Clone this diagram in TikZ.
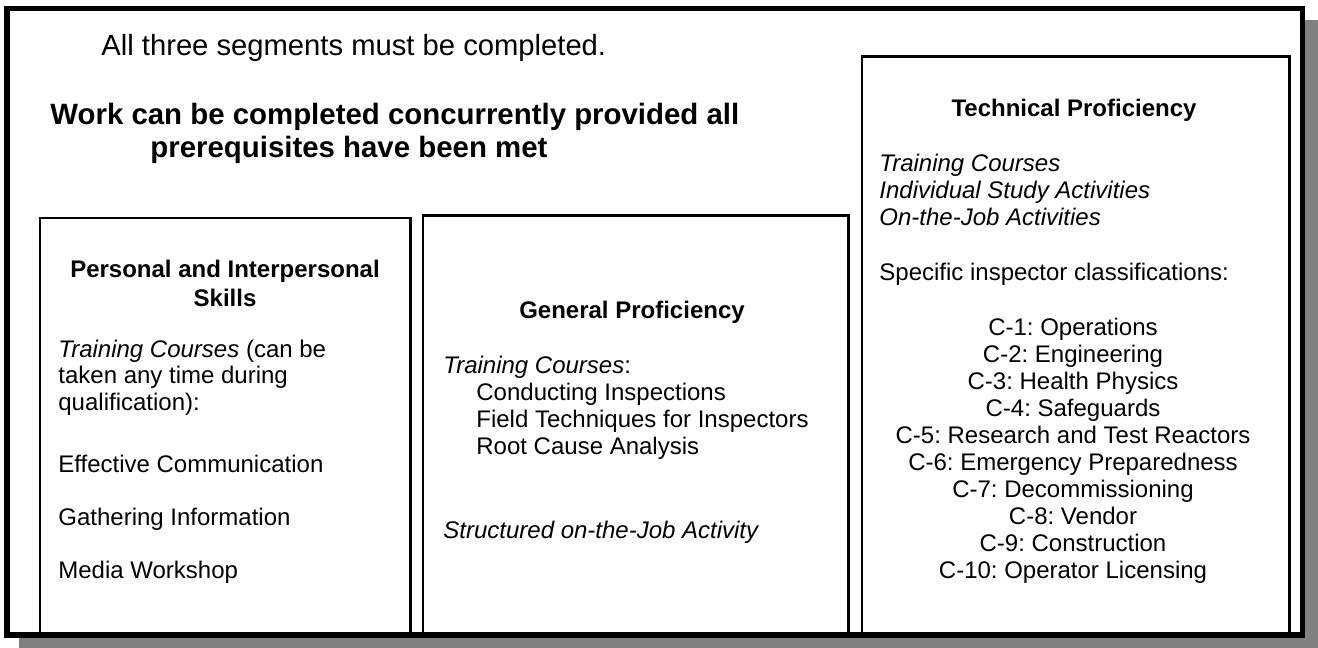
\documentclass[tikz,border=0pt]{standalone}
\usepackage{fontspec}
\setmainfont{Liberation Sans}
\frenchspacing
\definecolor{shadegray}{HTML}{808080}
\newcommand\boxline[3]{\node[anchor=base west] (#1) at (#2) {#3};}

\begin{document}
\begin{tikzpicture}[x=0.5pt,y=-0.5pt,
  every node/.style={inner sep=0pt,font=\fontsize{12}{13.4}\selectfont},
  head/.style={font=\fontsize{12}{14}\selectfont\bfseries},
  slant/.style={font=\fontsize{12}{13.4}\selectfont\itshape},
  big/.style={font=\fontsize{14.6}{15}\selectfont},
  bigbold/.style={font=\fontsize{14.7}{15}\selectfont\bfseries},
  segment/.style={line width=1.35pt}]
\useasboundingbox (0,0) rectangle (1318,648);
\fill[shadegray] (19,20) rectangle (1318,648);
\draw[line width=2.75pt,fill=white] (7,8.5) rectangle (1302.5,635);
\draw[segment] (40,218) rectangle (410.5,634);
\draw[segment] (423,215.3) rectangle (848.3,634);
\draw[segment] (862,56.3) rectangle (1289.5,634);
\node[big,anchor=base west] (allthree) at (101,55) {All three segments must be completed.};
\node[bigbold,anchor=base west] (work) at (50,124) {Work can be completed concurrently provided all};
\node[bigbold,anchor=base west] (prereq) at (150,157) {prerequisites have been met};
\node[head,anchor=base] (personal) at (225,277) {Personal and Interpersonal};
\node[head,anchor=base] (skills) at (225,306) {Skills};
\boxline{pcourses}{58,357}{\textit{Training Courses} (can be}
\boxline{ptaken}{58,383.7}{taken any time during}
\boxline{pqual}{58,410.4}{qualification):}
\boxline{effective}{58,472}{Effective Communication}
\boxline{gathering}{58,525}{Gathering Information}
\boxline{media}{58,578}{Media Workshop}
\node[head,anchor=base] (general) at (632,318) {General Proficiency};
\boxline{gcourses}{443,373}{\textit{Training Courses}:}
\foreach \t [count=\i] in {Conducting Inspections,Field Techniques for Inspectors,Root Cause Analysis}
  \node[anchor=base west] (gc\i) at (476,{373+\i*27.3}) {\t};
\node[slant,anchor=base west] (structured) at (443,538) {Structured on-the-Job Activity};
\node[head,anchor=base] (technical) at (1074,116) {Technical Proficiency};
\foreach \t [count=\i] in {Training Courses,Individual Study Activities,On-the-Job Activities}
  \node[slant,anchor=base west] (tc\i) at (879,{145+\i*26.7}) {\t};
\boxline{specific}{879,280}{Specific inspector classifications:}
\foreach \t [count=\i] in {Operations,Engineering,Health Physics,Safeguards,Research and Test Reactors,Emergency Preparedness,Decommissioning,Vendor,Construction,Operator Licensing}
  \node[anchor=base] (class\i) at (1073,{308+\i*27}) {C-\i: \t};
\end{tikzpicture}
\end{document}
